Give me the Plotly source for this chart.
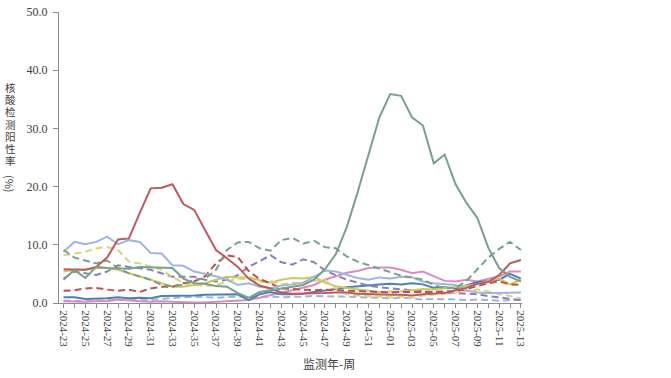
import plotly.graph_objects as go

weeks = ["2024-23", "2024-24", "2024-25", "2024-26", "2024-27", "2024-28", "2024-29", "2024-30",
         "2024-31", "2024-32", "2024-33", "2024-34", "2024-35", "2024-36", "2024-37", "2024-38",
         "2024-39", "2024-40", "2024-41", "2024-42", "2024-43", "2024-44", "2024-45", "2024-46",
         "2024-47", "2024-48", "2024-49", "2024-50", "2024-51", "2024-52", "2025-01", "2025-02",
         "2025-03", "2025-04", "2025-05", "2025-06", "2025-07", "2025-08", "2025-09", "2025-10",
         "2025-11", "2025-12", "2025-13"]

flu = [4.0, 5.7, 4.3, 6.2, 6.0, 5.9, 5.9, 6.2, 6.1, 6.0, 6.0, 4.2, 3.4, 3.3, 2.9, 2.8, 1.7, 0.9,
       1.9, 2.2, 2.5, 2.8, 3.1, 4.0, 5.8, 8.4, 13.0, 19.0, 25.5, 31.9, 35.9, 35.6, 31.9, 30.5,
       24.0, 25.5, 20.4, 17.2, 14.6, 9.5, 6.0, 4.5, 3.7]
covid = [5.8, 5.7, 5.7, 6.2, 7.8, 10.9, 11.1, 15.5, 19.7, 19.8, 20.4, 17.0, 16.0, 12.5, 9.1, 7.7,
         6.2, 4.2, 3.0, 2.5, 1.8, 1.6, 1.6, 1.7, 1.7, 1.8, 1.8, 1.6, 1.5, 1.5, 1.4, 1.4, 1.3, 1.5,
         1.6, 1.7, 2.2, 2.6, 3.3, 3.6, 4.8, 6.8, 7.4]
rhino = [8.8, 10.5, 10.1, 10.5, 11.4, 10.1, 10.8, 10.5, 8.6, 8.5, 6.5, 6.4, 5.4, 5.0, 4.6, 4.0,
         3.1, 3.4, 2.8, 2.6, 3.0, 3.2, 3.5, 4.5, 5.6, 5.4, 4.8, 4.3, 4.0, 4.4, 4.2, 4.5, 4.4, 3.7,
         3.4, 3.3, 3.1, 2.2, 1.8, 1.7, 1.7, 1.7, 1.8]
mp = [9.1, 7.8, 7.3, 6.8, 7.3, 6.0, 5.1, 4.6, 4.0, 3.1, 2.9, 3.1, 4.0, 4.2, 5.7, 9.1, 10.4, 10.5,
      9.4, 9.0, 10.8, 11.2, 10.2, 10.7, 9.6, 9.4, 8.0, 7.1, 6.5, 5.8, 5.2, 4.7, 4.4, 4.0, 3.1,
      2.5, 2.6, 3.8, 5.8, 7.8, 9.3, 10.5, 9.1]
adv = [2.1, 2.2, 2.5, 2.6, 2.3, 2.1, 2.3, 1.9, 2.5, 2.8, 2.8, 3.4, 3.7, 4.6, 6.8, 8.2, 7.9, 5.5,
       4.1, 3.4, 2.5, 2.4, 2.2, 2.2, 2.3, 2.2, 2.1, 2.0, 1.9, 1.9, 1.8, 1.9, 1.9, 1.8, 1.9, 2.0,
       2.0, 2.4, 2.9, 3.4, 3.7, 3.2, 3.1]
piv = [8.2, 8.5, 8.8, 9.4, 9.6, 9.1, 7.1, 6.8, 6.2, 5.7, 4.5, 3.4, 3.1, 2.9, 3.1, 3.7, 4.2, 4.0,
       3.5, 3.8, 3.2, 3.5, 3.4, 3.8, 4.0, 2.5, 1.5, 1.3, 1.2, 1.1, 1.0, 1.1, 0.9, 1.3, 1.4, 1.6,
       1.8, 2.0, 2.3, 2.0, 1.5, 1.2, 0.8]
ev = [5.4, 5.7, 5.7, 6.0, 6.0, 5.7, 5.1, 4.6, 4.0, 3.4, 2.8, 2.8, 3.1, 3.4, 4.0, 4.5, 4.4, 4.4,
      3.9, 3.5, 4.0, 4.3, 4.2, 4.5, 3.5, 2.9, 2.6, 2.3, 2.1, 1.9, 1.9, 2.0, 2.2, 2.4, 2.3, 2.5,
      2.7, 3.0, 3.2, 3.8, 4.2, 3.2, 4.0]
boca = [4.2, 5.4, 5.1, 4.8, 5.4, 6.5, 6.2, 6.0, 5.7, 5.1, 4.5, 4.5, 4.5, 4.0, 3.7, 4.0, 4.8, 6.2,
        7.2, 8.2, 7.0, 6.6, 7.5, 7.0, 5.6, 4.8, 4.0, 3.5, 3.0, 2.7, 2.5, 2.3, 2.2, 2.0, 1.9, 1.8,
        1.8, 1.7, 1.5, 1.2, 1.0, 0.8, 0.5]
rsv = [1.0, 1.0, 0.7, 0.7, 0.8, 1.0, 0.8, 0.9, 0.8, 1.2, 1.2, 1.2, 1.3, 1.4, 1.4, 1.5, 1.5, 0.5,
       1.5, 1.9, 1.5, 1.5, 1.6, 1.9, 2.1, 2.4, 2.7, 2.9, 3.0, 3.2, 3.3, 3.2, 3.4, 3.2, 2.6, 2.7,
       2.5, 3.0, 3.6, 3.8, 4.0, 5.0, 4.2]
hcov = [0.4, 0.3, 0.3, 0.4, 0.5, 0.5, 0.6, 0.6, 0.5, 0.7, 0.8, 0.9, 1.1, 1.0, 0.9, 1.0, 1.1, 1.0,
        1.1, 1.1, 1.0, 1.0, 1.1, 1.2, 1.2, 1.1, 1.1, 1.0, 1.0, 0.9, 0.8, 0.9, 0.8, 0.6, 0.7, 0.7,
        0.6, 0.5, 0.6, 0.5, 0.4, 0.5, 0.5]
hmpv = [0.3, 0.2, 0.2, 0.3, 0.3, 0.6, 0.4, 0.3, 0.2, 0.3, 0.2, 0.1, 0.1, 0.1, 0.2, 0.3, 0.5, 0.5,
        0.9, 1.4, 1.8, 2.2, 2.6, 3.1, 4.0, 4.6, 5.2, 5.5, 6.0, 6.1, 6.1, 5.7, 5.1, 5.4, 4.6, 3.8,
        3.7, 4.0, 3.7, 4.2, 4.6, 5.4, 5.4]

series = [
    ("人冠状病毒", hcov, "#9BB7DC", "dash"),
    ("人偏肺病毒", hmpv, "#D98CBF", "solid"),
    ("呼吸道合胞病毒", rsv, "#4F7FB5", "solid"),
    ("博卡病毒", boca, "#8C7DC0", "dash"),
    ("肠道病毒", ev, "#CCC85A", "solid"),
    ("副流感病毒", piv, "#D9D47A", "dash"),
    ("腺病毒", adv, "#C0504D", "dash"),
    ("鼻病毒", rhino, "#9BB7DC", "solid"),
    ("肺炎支原体", mp, "#77A08D", "dash"),
    ("新型冠状病毒", covid, "#BE5A5E", "solid"),
    ("流感病毒", flu, "#77A08D", "solid"),
]

fig = go.Figure()
for name, vals, color, dash in series:
    fig.add_trace(go.Scatter(
        x=weeks, y=vals, name=name, mode="lines",
        line=dict(color=color, width=2, dash="7px,4px" if dash == "dash" else "solid"),
        showlegend=False,
    ))

ticktext = [w if i % 2 == 0 else "" for i, w in enumerate(weeks)]

W, H = 671, 378
L, R, T, B = 59, 149, 12, 75
pw, ph = W - L - R, H - T - B

fig.update_layout(
    width=W, height=H,
    margin=dict(l=L, r=R, t=T, b=B, pad=0, autoexpand=False),
    paper_bgcolor="white", plot_bgcolor="white",
    font=dict(family="Liberation Serif, Times New Roman, serif", color="#404040"),
    xaxis=dict(
        type="category", range=[-0.42, 42.1], automargin=False,
        tickmode="array", tickvals=weeks, ticktext=ticktext,
        tickangle=90, tickfont=dict(size=11, family="Liberation Serif", color="#404040"),
        showline=True, linecolor="#8C8C8C", linewidth=1,
        ticks="outside", ticklen=4, tickcolor="#8C8C8C",
        showgrid=False, zeroline=False, ticklabeloverflow="allow",
    ),
    yaxis=dict(
        range=[0, 50], tickmode="array", tickvals=[0, 10, 20, 30, 40, 50], automargin=False,
        tickformat=".1f", tickfont=dict(size=12, family="Liberation Serif", color="#404040"),
        showline=True, linecolor="#8C8C8C", linewidth=1,
        ticks="outside", ticklen=5, tickcolor="#8C8C8C",
        showgrid=False, zeroline=False, ticklabelstandoff=3, ticklabeloverflow="allow",
    ),
)

def px_to_paper(xp, yp):
    return (xp - L) / pw, (H - B - yp) / ph

ann = []
ychars = ["核", "酸", "检", "测", "阳", "性", "率"]
for k, ch in enumerate(ychars):
    xx, yy = px_to_paper(10, 87.5 + k * 12.2)
    ann.append(dict(text=ch, x=xx, y=yy, xref="paper", yref="paper", showarrow=False,
                    xanchor="center", yanchor="middle",
                    font=dict(size=10.5, family="Noto Sans CJK SC", color="#404040")))
xx, yy = px_to_paper(10, 184)
ann.append(dict(text="(%)", x=xx, y=yy, xref="paper", yref="paper", showarrow=False,
                textangle=90, xanchor="center", yanchor="middle",
                font=dict(size=11, family="Noto Sans CJK SC", color="#404040")))
xx, yy = px_to_paper(329, 363)
ann.append(dict(text="监测年-周", x=xx, y=yy, xref="paper", yref="paper", showarrow=False,
                xanchor="center", yanchor="middle",
                font=dict(size=12, family="Noto Sans CJK SC", color="#404040")))
fig.update_layout(annotations=ann)

# remove the default 8px page margin so the figure fills the window exactly
fig.write_html("out.html", config={"displayModeBar": False},
               post_script="document.body.style.margin='0px';")
